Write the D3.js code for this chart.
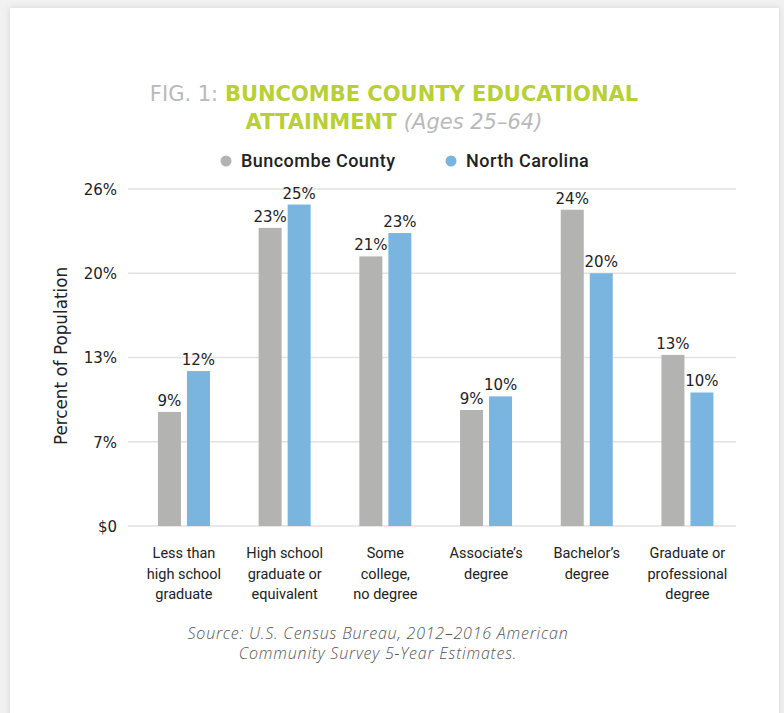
<!DOCTYPE html>
<html><head><meta charset="utf-8">
<script src="https://cdn.jsdelivr.net/npm/d3@7"></script>
<style>
html,body{margin:0;padding:0;background:#f1f1f1;}
svg{display:block;}
</style></head>
<body>
<svg id="chart" width="784" height="713"></svg>
<script>
const categories = [
  ["Less than","high school","graduate"],
  ["High school","graduate or","equivalent"],
  ["Some","college,","no degree"],
  ["Associate’s","degree"],
  ["Bachelor’s","degree"],
  ["Graduate or","professional","degree"]
];
const seriesNames = ["Buncombe County","North Carolina"];
const buncombe = [8.8, 23.0, 20.8, 8.95, 24.4, 13.2];
const northCarolina = [11.95, 24.8, 22.6, 10.0, 19.5, 10.3];
const tickValues = [0, 6.5, 13, 19.5, 26];
const tickLabels = ["$0", "7%", "13%", "20%", "26%"];
const colors = ["#b3b3b2", "#7ab5e0"];

const svg = d3.select("#chart");
const defs = svg.append("defs");
const f = defs.append("filter").attr("id","sh").attr("x","-5%").attr("y","-5%").attr("width","110%").attr("height","110%");
f.append("feDropShadow").attr("dx",0).attr("dy",0).attr("stdDeviation",3).attr("flood-color","#000").attr("flood-opacity",0.12);
svg.append("rect").attr("x",10).attr("y",8).attr("width",769).attr("height",720).attr("fill","#fff").attr("filter","url(#sh)");

// Title
const t = svg.append("text").attr("text-anchor","middle").attr("font-family","'DejaVu Sans', sans-serif").attr("font-size",21);
const l1 = t.append("tspan").attr("x",394).attr("y",101);
l1.append("tspan").attr("fill","#b9b9bb").text("FIG. 1: ");
l1.append("tspan").attr("fill","#b8cf35").attr("font-weight",700).text("BUNCOMBE COUNTY EDUCATIONAL");
const l2 = t.append("tspan").attr("x",394).attr("y",129);
l2.append("tspan").attr("fill","#b8cf35").attr("font-weight",700).text("ATTAINMENT ");
l2.append("tspan").attr("fill","#b9b9bb").attr("font-style","italic").text("(Ages 25–64)");

// Legend
const legX = [226, 451];
seriesNames.forEach((n,i)=>{
  svg.append("circle").attr("cx",legX[i]).attr("cy",161).attr("r",5.5).attr("fill",colors[i]);
  svg.append("text").attr("x",legX[i]+15).attr("y",167).attr("font-family","Roboto, sans-serif").attr("font-size",18).attr("font-weight",500).attr("letter-spacing",0.45).attr("fill","#222").text(n);
});

const y = d3.scaleLinear().domain([0,26]).range([526,189]);
const x = d3.scaleBand().domain(d3.range(categories.length)).range([133.6,737.8]).paddingInner(0).paddingOuter(0);
const xs = d3.scaleBand().domain([0,1]).range([-26,26]).paddingInner(0.2069).paddingOuter(0);

// gridlines
svg.append("g").selectAll("line").data(tickValues).join("line")
  .attr("x1",128).attr("x2",736).attr("y1",d=>y(d)).attr("y2",d=>y(d))
  .attr("stroke","#e2e2e2").attr("stroke-width",1.5);

// y axis labels
const yAxis = d3.axisLeft(y).tickValues(tickValues).tickFormat((d,i)=>tickLabels[i]).tickSize(0).tickPadding(0);
const ya = svg.append("g").attr("transform","translate(117,0)").call(yAxis);
ya.select(".domain").remove();
ya.selectAll("text").attr("font-family","'DejaVu Sans', sans-serif").attr("font-size",15).attr("fill","#222").attr("dy","0.35em");

svg.append("text").attr("transform","translate(67,356) rotate(-90)").attr("text-anchor","middle")
  .attr("font-family","'DejaVu Sans', sans-serif").attr("font-size",16.8).attr("fill","#222").text("Percent of Population");

// bars
const series = [buncombe, northCarolina];
series.forEach((vals,s)=>{
  const g = svg.append("g");
  g.selectAll("rect").data(vals).join("rect")
    .attr("x",(d,i)=>x(i)+x.bandwidth()/2+xs(s))
    .attr("width",xs.bandwidth())
    .attr("y",d=>y(d)).attr("height",d=>y(0)-y(d))
    .attr("fill",colors[s]);
  g.selectAll("text").data(vals).join("text")
    .attr("x",(d,i)=>x(i)+x.bandwidth()/2+xs(s)+xs.bandwidth()/2)
    .attr("y",d=>y(d)-6)
    .attr("text-anchor","middle")
    .attr("font-family","'DejaVu Sans', sans-serif").attr("font-size",15).attr("fill","#222")
    .text(d=>Math.round(d)+"%");
});

// x labels
const xl = svg.append("g");
categories.forEach((lines,i)=>{
  const tx = xl.append("text").attr("text-anchor","middle")
    .attr("font-family","Roboto, sans-serif").attr("font-size",14.5).attr("fill","#222");
  lines.forEach((ln,j)=>{
    tx.append("tspan").attr("x",x(i)+x.bandwidth()/2).attr("y",558+j*20.5).text(ln);
  });
});

// source
const src = svg.append("text").attr("text-anchor","middle").attr("font-family","'Open Sans', sans-serif")
  .attr("font-size",16).attr("font-style","italic").attr("font-weight",300).attr("letter-spacing",0.8).attr("fill","#555");
src.append("tspan").attr("x",378).attr("y",639).text("Source: U.S. Census Bureau, 2012–2016 American");
src.append("tspan").attr("x",378).attr("y",659).text("Community Survey 5-Year Estimates.");
</script>
</body></html>
